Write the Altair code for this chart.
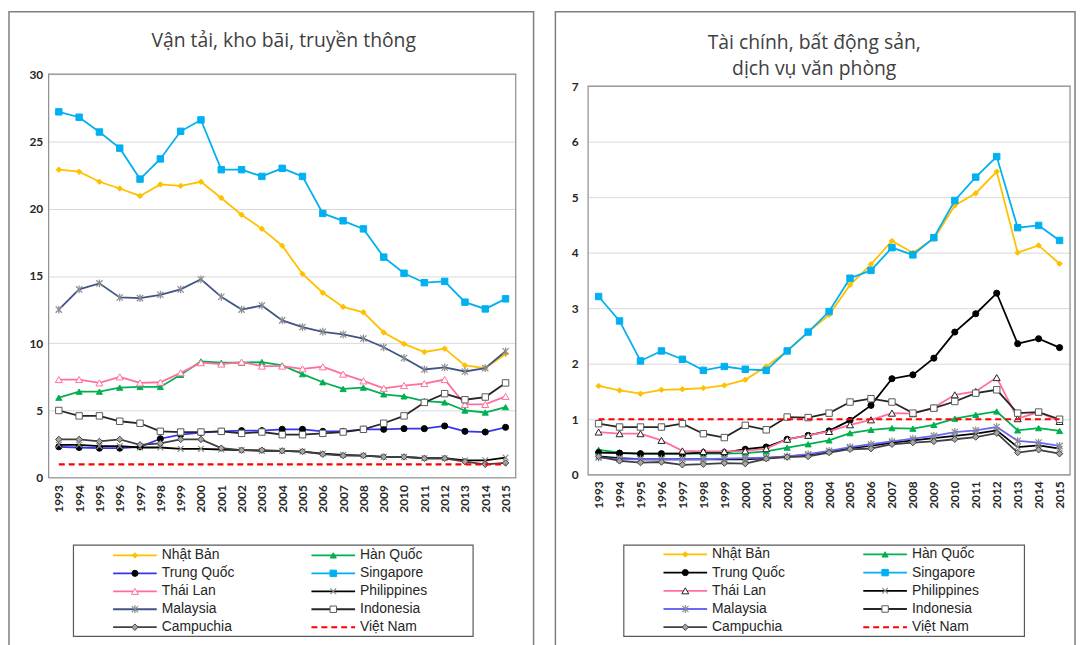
import altair as alt
import pandas as pd

years = list(range(1993, 2016))
countries = ["Nhật Bản", "Hàn Quốc", "Trung Quốc", "Singapore", "Thái Lan",
             "Philippines", "Malaysia", "Indonesia", "Campuchia", "Việt Nam"]

title_left = ["Vận tải, kho bãi, truyền thông"]
title_right = ["Tài chính, bất động sản,", "dịch vụ văn phòng"]
yticks_left = [0, 5, 10, 15, 20, 25, 30]
yticks_right = [0, 1, 2, 3, 4, 5, 6, 7]

# ---- Left panel: Vận tải, kho bãi, truyền thông ----
nb_L = [22.9, 22.75, 22.0, 21.5, 20.95, 21.8, 21.7, 22.0, 20.8, 19.55, 18.5, 17.25, 15.15, 13.75, 12.7, 12.3, 10.8, 9.95, 9.35, 9.6, 8.35, 8.15, 9.2]
hq_L = [5.95, 6.4, 6.4, 6.7, 6.75, 6.75, 7.65, 8.65, 8.55, 8.55, 8.6, 8.35, 7.7, 7.1, 6.6, 6.7, 6.2, 6.05, 5.7, 5.6, 5.0, 4.85, 5.25]
tq_L = [2.3, 2.25, 2.2, 2.2, 2.3, 2.9, 3.2, 3.35, 3.45, 3.5, 3.5, 3.6, 3.6, 3.45, 3.45, 3.6, 3.6, 3.65, 3.65, 3.85, 3.45, 3.4, 3.75]
sg_L = [27.2, 26.8, 25.7, 24.5, 22.2, 23.7, 25.75, 26.6, 22.9, 22.9, 22.4, 23.0, 22.4, 19.65, 19.1, 18.5, 16.4, 15.2, 14.5, 14.6, 13.05, 12.55, 13.3]
tl_L = [7.3, 7.3, 7.05, 7.5, 7.05, 7.1, 7.8, 8.55, 8.45, 8.6, 8.3, 8.3, 8.1, 8.25, 7.7, 7.2, 6.65, 6.85, 7.0, 7.3, 5.45, 5.45, 6.05]
ph_L = [2.45, 2.45, 2.35, 2.35, 2.25, 2.25, 2.15, 2.15, 2.1, 2.05, 2.0, 2.0, 1.95, 1.8, 1.7, 1.65, 1.55, 1.55, 1.45, 1.45, 1.3, 1.3, 1.5]
my_L = [12.5, 14.0, 14.45, 13.4, 13.35, 13.6, 14.0, 14.75, 13.45, 12.5, 12.8, 11.7, 11.2, 10.85, 10.65, 10.35, 9.7, 8.9, 8.05, 8.2, 7.9, 8.15, 9.4]
id_L = [5.0, 4.6, 4.6, 4.2, 4.05, 3.45, 3.4, 3.4, 3.45, 3.3, 3.4, 3.2, 3.2, 3.3, 3.4, 3.6, 4.05, 4.6, 5.6, 6.25, 5.8, 6.0, 7.05]
cp_L = [2.85, 2.85, 2.7, 2.85, 2.45, 2.55, 2.85, 2.85, 2.2, 2.05, 2.05, 2.0, 1.95, 1.75, 1.65, 1.65, 1.55, 1.55, 1.45, 1.45, 1.2, 1.0, 1.1]
vn_L = [1, 1, 1, 1, 1, 1, 1, 1, 1, 1, 1, 1, 1, 1, 1, 1, 1, 1, 1, 1, 1, 1, 1]

# ---- Right panel: Tài chính, bất động sản, dịch vụ văn phòng ----
nb_R = [1.6, 1.52, 1.46, 1.53, 1.54, 1.56, 1.61, 1.71, 1.95, 2.23, 2.57, 2.88, 3.42, 3.79, 4.21, 4.0, 4.25, 4.85, 5.07, 5.46, 4.0, 4.13, 3.8]
hq_R = [0.45, 0.4, 0.38, 0.38, 0.38, 0.38, 0.38, 0.39, 0.42, 0.49, 0.55, 0.62, 0.75, 0.81, 0.84, 0.83, 0.9, 1.01, 1.08, 1.14, 0.8, 0.84, 0.79]
tq_R = [0.4, 0.39, 0.38, 0.38, 0.38, 0.4, 0.4, 0.46, 0.5, 0.64, 0.71, 0.79, 0.98, 1.25, 1.73, 1.8, 2.1, 2.57, 2.9, 3.27, 2.36, 2.45, 2.29]
sg_R = [3.21, 2.77, 2.05, 2.23, 2.08, 1.88, 1.95, 1.9, 1.88, 2.23, 2.57, 2.94, 3.54, 3.68, 4.09, 3.96, 4.27, 4.94, 5.36, 5.73, 4.45, 4.49, 4.22]
tl_R = [0.77, 0.74, 0.74, 0.62, 0.43, 0.42, 0.42, 0.43, 0.47, 0.64, 0.71, 0.78, 0.9, 0.99, 1.11, 1.1, 1.21, 1.44, 1.5, 1.75, 1.01, 1.13, 0.96]
ph_R = [0.33, 0.3, 0.28, 0.28, 0.28, 0.28, 0.28, 0.28, 0.3, 0.33, 0.36, 0.42, 0.48, 0.52, 0.58, 0.62, 0.66, 0.7, 0.74, 0.8, 0.5, 0.53, 0.47]
my_R = [0.31, 0.28, 0.28, 0.28, 0.28, 0.28, 0.29, 0.3, 0.31, 0.33, 0.37, 0.43, 0.5, 0.55, 0.6, 0.65, 0.7, 0.77, 0.8, 0.86, 0.61, 0.58, 0.52]
id_R = [0.92, 0.86, 0.86, 0.86, 0.92, 0.74, 0.67, 0.89, 0.81, 1.04, 1.03, 1.11, 1.31, 1.37, 1.31, 1.11, 1.2, 1.32, 1.47, 1.53, 1.11, 1.13, 1.0]
cp_R = [0.33, 0.25, 0.22, 0.23, 0.18, 0.19, 0.21, 0.2, 0.29, 0.32, 0.33, 0.4, 0.46, 0.47, 0.55, 0.58, 0.6, 0.64, 0.68, 0.75, 0.4, 0.45, 0.38]
vn_R = [1, 1, 1, 1, 1, 1, 1, 1, 1, 1, 1, 1, 1, 1, 1, 1, 1, 1, 1, 1, 1, 1, 1]

left_series = [nb_L, hq_L, tq_L, sg_L, tl_L, ph_L, my_L, id_L, cp_L, vn_L]
right_series = [nb_R, hq_R, tq_R, sg_R, tl_R, ph_R, my_R, id_R, cp_R, vn_R]

# ---- styles ----
X_PATH = "M-1,-1L1,1M-1,1L1,-1"
STAR_PATH = "M-1,-1L1,1M-1,1L1,-1M0,-1.25L0,1.25"
LINE_PATH = "M-1,0L1,0"

def styles(side):
    tq_line = "#3535F0" if side == "L" else "#000000"
    my_line = "#3F5588" if side == "L" else "#6A6AF5"
    tl_mark = "#FF6F9C" if side == "L" else "#202020"
    return {
        "Nhật Bản": dict(line="#FFC000", shape="diamond", fill="#FFC000", stroke="#FFC000", size=30),
        "Hàn Quốc": dict(line="#00B050", shape="triangle-up", fill="#00B050", stroke="#00B050", size=38),
        "Trung Quốc": dict(line=tq_line, shape="circle", fill="#000000", stroke="#000000", size=38),
        "Singapore": dict(line="#00B0F0", shape="square", fill="#00B0F0", stroke="#00B0F0", size=42),
        "Thái Lan": dict(line="#FF6F9C", shape="triangle-up", fill="#FFFFFF", stroke=tl_mark, size=50),
        "Philippines": dict(line="#000000", shape=X_PATH, fill=None, stroke="#8C8C8C", size=34),
        "Malaysia": dict(line=my_line, shape=STAR_PATH, fill=None, stroke="#8C8C8C", size=40),
        "Indonesia": dict(line="#262626", shape="square", fill="#FFFFFF", stroke="#595959", size=42),
        "Campuchia": dict(line="#404040", shape="diamond", fill="#A6A6A6", stroke="#404040", size=42),
        "Việt Nam": dict(line="#FF0000", shape=None, dash=[6, 4]),
    }

FONT_NUM = "Lato"
FONT_TXT = "Liberation Sans"
FONT_TITLE = "Open Sans"


def point_mark(chart, st):
    if st["fill"] is None:
        return chart.mark_point(filled=False, color=st["stroke"], strokeWidth=1.2,
                                shape=st["shape"], size=st["size"], opacity=1)
    return chart.mark_point(filled=True, fill=st["fill"], stroke=st["stroke"], strokeWidth=1,
                            shape=st["shape"], size=st["size"], opacity=1)


def make_panel(series, side, W, H, y_range, ymax, yticks, ylabpad, xlabpad, geom, titles):
    st_all = styles(side)
    rows = []
    for c, vals in zip(countries, series):
        for yr, v in zip(years, vals):
            rows.append({"year": str(yr), "value": v, "country": c})
    df = pd.DataFrame(rows)

    x = alt.X("year:O", scale=alt.Scale(type="point", padding=0.5), title=None,
              axis=alt.Axis(labelAngle=-90, labelPadding=xlabpad, ticks=False, domain=False,
                            grid=False, labelFont=FONT_NUM, labelFontWeight="bold",
                            labelFontSize=12, labelColor="#262626"))
    y = alt.Y("value:Q", scale=alt.Scale(domain=[0, ymax], range=y_range, nice=False, zero=True),
              title=None,
              axis=alt.Axis(values=yticks, labelPadding=ylabpad, ticks=False, domain=False,
                            grid=True, gridColor="#D9D9D9", gridWidth=1, labelFont=FONT_NUM,
                            labelFontWeight="bold", labelFontSize=12, labelColor="#262626"))

    data_layers = []
    for c in countries:
        st = st_all[c]
        base = alt.Chart(df).transform_filter(alt.datum.country == c)
        if st["shape"] is None:
            data_layers.append(base.mark_line(color=st["line"], strokeWidth=2.2,
                                              strokeDash=st["dash"]).encode(x=x, y=y))
        else:
            data_layers.append(base.mark_line(color=st["line"], strokeWidth=1.8).encode(x=x, y=y))
            data_layers.append(point_mark(base, st).encode(x=x, y=y))
    data_layer = alt.layer(*data_layers)

    # legend drawn through its own scales
    leg_df = pd.DataFrame({"country": countries,
                           "col": [i % 2 for i in range(len(countries))],
                           "row": [i // 2 for i in range(len(countries))]})
    lx = alt.X("col:Q", scale=alt.Scale(domain=[0, 1], range=geom["leg_x"], nice=False, zero=False), axis=None)
    ly = alt.Y("row:Q", scale=alt.Scale(domain=[0, 4], range=geom["leg_y"], nice=False, zero=False), axis=None)
    leg_layers = []
    for c in countries:
        st = st_all[c]
        lb = alt.Chart(leg_df).transform_filter(alt.datum.country == c)
        if st["shape"] is None:
            leg_layers.append(lb.mark_point(shape=LINE_PATH, size=44 * 44, filled=False,
                                            color=st["line"], strokeWidth=2, strokeDash=[6, 4],
                                            opacity=1).encode(x=lx, y=ly))
        else:
            leg_layers.append(lb.mark_point(shape=LINE_PATH, size=44 * 44, filled=False,
                                            color=st["line"], strokeWidth=1.8,
                                            opacity=1).encode(x=lx, y=ly))
            leg_layers.append(point_mark(lb, st).encode(x=lx, y=ly))
    leg_layers.append(alt.Chart(leg_df).mark_text(align="left", baseline="middle", dx=27,
                                                  font=FONT_TXT, fontSize=14, color="#262626")
                      .encode(x=lx, y=ly, text="country:N"))
    legend_layer = alt.layer(*leg_layers)

    one = pd.DataFrame({"k": [0]})
    ox0, ox1, oy0, oy1 = geom["outer"]
    bx0, bx1, by0, by1 = geom["legbox"]
    px0, px1, py0, py1 = geom["plotbox"]
    deco = [
        alt.Chart(one).mark_rect(fill="#FFFFFF", fillOpacity=0, stroke="#7F7F7F", strokeWidth=1.5)
        .encode(x=alt.value(ox0), x2=alt.value(ox1), y=alt.value(oy0), y2=alt.value(oy1)),
        alt.Chart(one).mark_rect(fill="#FFFFFF", fillOpacity=0, stroke="#595959", strokeWidth=1.2)
        .encode(x=alt.value(bx0), x2=alt.value(bx1), y=alt.value(by0), y2=alt.value(by1)),
    ]
    for t, ty in zip(titles, geom["title_y"]):
        deco.append(alt.Chart(pd.DataFrame({"t": [t]})).mark_text(
            font=FONT_TITLE, fontSize=19.5, color="#404040", align="center", baseline="middle")
            .encode(x=alt.value(geom["title_x"]), y=alt.value(ty), text="t:N"))
    deco_layer = alt.layer(*deco)

    frame = alt.Chart(one).mark_rect(fill="#FFFFFF", fillOpacity=0, stroke="#8C8C8C",
                                     strokeWidth=1.2).encode(
        x=alt.value(px0), x2=alt.value(px1), y=alt.value(py0), y2=alt.value(py1))

    return alt.layer(deco_layer, data_layer, legend_layer, frame).resolve_scale(
        x="independent", y="independent").properties(width=W, height=H)


geom_L = dict(outer=(-40, 489, -63, 580), legbox=(25, 428, 475, 567), plotbox=(0, 471, 0, 407),
              leg_x=[87, 287], leg_y=[485.3, 557.7], title_x=237, title_y=[-33])
geom_R = dict(outer=(-33, 491, -63, 580), legbox=(36, 440, 475, 567), plotbox=(0, 486, 12, 404),
              leg_x=[98, 299.5], leg_y=[484.3, 557.7], title_x=228, title_y=[-31, -5])

left = make_panel(left_series, "L", 471, 407, [407, 0], 30, yticks_left, 6, 7, geom_L, title_left)
right = make_panel(right_series, "R", 486, 404, [404, 12], 7, yticks_right, 10, 6, geom_R, title_right)

chart = alt.hconcat(left, right, spacing=20).configure_view(
    strokeWidth=0).properties(
    padding={"left": 0, "top": 0, "right": 0, "bottom": 0}, background="#FFFFFF")

chart.save("out.html", embed_options={"renderer": "svg", "actions": False})
